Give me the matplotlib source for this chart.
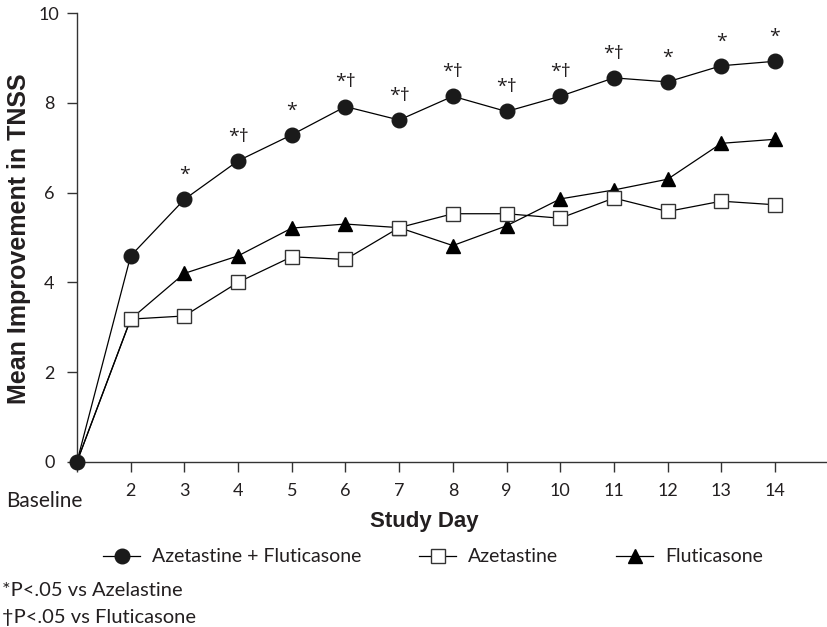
import numpy as np
import matplotlib
matplotlib.use("Agg")
import matplotlib.pyplot as plt
from matplotlib.lines import Line2D

# study days (baseline = day 1)
days = [1, 2, 3, 4, 5, 6, 7, 8, 9, 10, 11, 12, 13, 14]
tick_labels = ["", "2", "3", "4", "5", "6", "7", "8", "9", "10", "11", "12", "13", "14"]

combo = [0, 4.59, 5.85, 6.71, 7.29, 7.92, 7.62, 8.15, 7.81, 8.15, 8.56, 8.47, 8.83, 8.93]
azelastine = [0, 3.18, 3.25, 4.00, 4.57, 4.51, 5.22, 5.53, 5.53, 5.43, 5.88, 5.58, 5.81, 5.73]
fluticasone = [0, 3.18, 4.20, 4.59, 5.21, 5.30, 5.22, 4.82, 5.26, 5.86, 6.06, 6.30, 7.10, 7.19]

# significance marks above the combination series
sig_marks = ["", "", "*", "*\u2020", "*", "*\u2020", "*\u2020", "*\u2020", "*\u2020",
             "*\u2020", "*\u2020", "*", "*", "*"]

series_names = ["Azetastine + Fluticasone", "Azetastine", "Fluticasone"]
footnotes = ["*P<.05 vs Azelastine", "\u2020P<.05 vs Fluticasone"]

ink = "#231f20"
plt.rcParams["font.family"] = ["Lato", "DejaVu Sans"]
fig = plt.figure(figsize=(8.27, 6.27), dpi=100)
ax = fig.add_axes([77 / 827, 1 - 461.7 / 627, (826 - 77) / 827, (461.7 - 13.3) / 627])

lw = 0.9
# baseline point is shared; only the circle is drawn there
ax.plot(days, fluticasone, color="black", lw=lw, marker="^", ms=10.5,
        mfc="black", mec="black", markevery=slice(1, None), zorder=3, clip_on=False)
ax.plot(days, azelastine, color="black", lw=lw, marker="s", ms=10,
        mfc="white", mec="#333333", mew=1.0, markevery=slice(1, None), zorder=4,
        clip_on=False)
ax.plot(days, combo, color="black", lw=lw, marker="o", ms=10.5,
        mfc="#1a1a1a", mec="#1a1a1a", zorder=5, clip_on=False)

for d, v, s in zip(days, combo, sig_marks):
    if s:
        ax.annotate(s, (d, v), xytext=(0, 11), textcoords="offset points",
                    ha="center", va="bottom", fontsize=14, family="Open Sans",
                    color=ink)

ax.set_xlim(1, 14.95)
ax.set_ylim(0, 10)
ax.set_xticks(days)
ax.set_xticklabels(tick_labels)
ax.set_yticks([0, 2, 4, 6, 8, 10])
ax.tick_params(axis="both", direction="out", length=7, width=1, color="#333333",
               labelsize=13, labelcolor=ink)
ax.tick_params(axis="x", pad=8)
ax.tick_params(axis="y", pad=13)
for lab in ax.get_yticklabels():
    lab.set_horizontalalignment("center")
for side in ["top", "right"]:
    ax.spines[side].set_visible(False)
for side in ["left", "bottom"]:
    ax.spines[side].set_linewidth(1.0)
    ax.spines[side].set_color("#333333")

fig.text(44 / 827, 1 - 501 / 627, "Baseline", ha="center", va="center",
         fontsize=15, color=ink)
fig.text(424 / 827, 1 - 522 / 627, "Study Day", ha="center", va="center",
         fontsize=16, fontweight="bold", family="Liberation Sans", color=ink)
fig.text(19 / 827, 1 - 239 / 627, "Mean Improvement in TNSS", ha="center", va="center",
         rotation=90, fontsize=18, fontweight="bold", family="Liberation Sans",
         color=ink)

handles = [
    Line2D([], [], color="black", lw=lw, marker="o", ms=10.5, mfc="#1a1a1a", mec="#1a1a1a"),
    Line2D([], [], color="black", lw=lw, marker="s", ms=10, mfc="white", mec="#333333"),
    Line2D([], [], color="black", lw=lw, marker="^", ms=10.5, mfc="black", mec="black"),
]
leg = fig.legend(handles, series_names, loc="center", bbox_to_anchor=(433 / 827, 1 - 557 / 627),
                 ncol=3, frameon=False, fontsize=14, handlelength=1.9, handletextpad=0.6,
                 columnspacing=3.0)
for t in leg.get_texts():
    t.set_color(ink)

fig.text(0.003, 1 - 591 / 627, footnotes[0], ha="left", va="center", fontsize=14.5,
         color=ink)
fig.text(0.003, 1 - 617 / 627, footnotes[1], ha="left", va="center", fontsize=14.5,
         color=ink)

fig.savefig("out.png", dpi=100)
